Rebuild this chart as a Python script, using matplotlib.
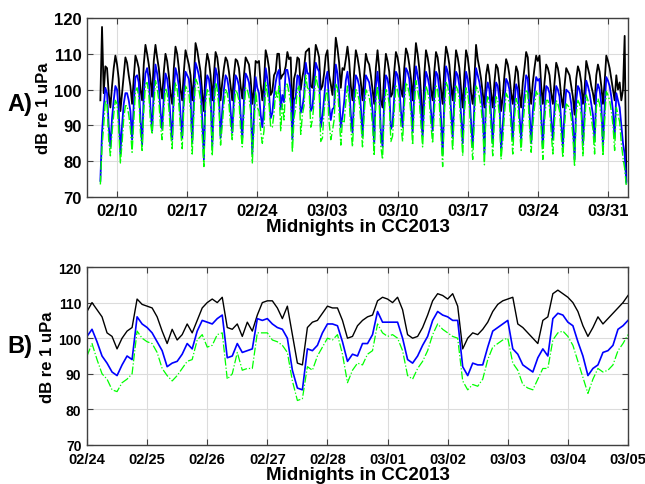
import numpy as np
import pandas as pd
import matplotlib
matplotlib.use('Agg')
import matplotlib.pyplot as plt
import matplotlib.dates as mdates

plt.rcParams['font.family'] = ['Liberation Sans', 'DejaVu Sans']
plt.rcParams['font.weight'] = 'bold'

# ---------------- Panel A: 4-hourly levels, 02/08 08h .. 04/01 20h ----------------
# one line per day (00,04,08,12,16,20 h); first line starts at 08h
top_black = [
    97, 117.5, 99, 106.5,
    106, 99, 95, 101, 106, 109.5,
    107, 103, 94, 99, 104, 109,
    107.5, 104, 101, 96, 103, 109.5,
    108, 106, 100, 97, 107, 112.5,
    110, 107, 103, 98, 108, 112.5,
    109, 106, 101, 97.5, 105, 110,
    108, 104, 99, 96, 106, 112,
    110, 106, 100, 97, 105, 111,
    109, 107, 104, 97, 103, 113,
    111, 108, 105, 99, 94, 106,
    110, 108, 104, 97, 104, 110.5,
    109, 105, 97, 102, 106, 109,
    108, 105, 101, 97, 104, 108.5,
    108, 106, 101, 97.5, 104, 109,
    108, 107, 103, 96, 100, 108,
    107.5, 108, 101.5, 97, 102, 111,
    109, 106, 98.5, 99.5, 104, 105,
    110, 110, 103, 104, 104.5, 106.5,
    110.5, 108.5, 109, 93, 103, 105,
    109, 108.5, 100, 103.5, 106, 110.5,
    111, 111.5, 101, 100.5, 106.5, 112.5,
    111, 109, 100, 101, 104.5, 109.5,
    111, 104, 101.5, 98.5, 106, 114.5,
    111.5, 107.5, 100.5, 106, 105.5, 108.5,
    112, 108, 101, 97, 105, 111,
    109, 106, 102, 97, 104, 110,
    108, 107, 104, 100, 96, 106,
    111, 106, 97, 95, 104, 110,
    108, 105, 98, 99, 105, 110.5,
    109, 106, 100, 98, 106, 111.5,
    110, 107, 103, 97, 106, 113,
    110, 106, 99, 88, 104, 111,
    109, 106, 100, 97, 105, 110.5,
    109, 105, 100, 96, 106, 112,
    110, 107, 101, 97, 104, 111,
    109, 106, 100, 95, 104, 111,
    109, 105, 99, 96, 103, 112.5,
    108.5, 106, 103, 99, 95, 104,
    107, 104, 99, 95, 102, 107,
    106, 102, 94, 98, 104, 108.5,
    107, 104, 99, 96, 102, 106.5,
    105, 99, 95, 102, 106, 110.5,
    109, 101, 96, 102, 106, 109.5,
    108, 109.5, 101, 96, 102, 107,
    106, 104, 99, 96, 102, 107.5,
    106, 103, 98, 95, 101, 106,
    105, 104, 101, 98, 93, 103,
    106.5, 105, 102, 96, 100, 108,
    106, 104, 101, 99, 96, 104,
    107, 105, 101, 96, 102, 109.5,
    108, 106, 103, 100, 97, 104,
    100, 102, 97, 100, 115, 74.5,
]
top_blue = [
    74.5, 88, 95, 100.5,
    99, 90, 84, 92, 97, 101,
    100, 94, 82, 90, 96, 99,
    99, 97, 94, 86, 96, 103.5,
    104, 102, 92, 84.5, 99, 104.5,
    106, 103, 95, 88.5, 100, 107,
    104.5, 101, 94, 89, 98, 104.5,
    103, 99, 92, 86, 100, 106,
    104, 101, 93, 86.5, 99, 105,
    104, 103, 98, 85, 97, 107.5,
    106, 104, 101, 92, 80.5, 100,
    104, 103, 99, 84, 97, 106,
    104, 99, 86.5, 94, 100, 104,
    103, 100, 94, 88, 98, 104,
    103, 101, 93, 86.5, 97, 104.5,
    103.5, 102, 98, 82, 93, 103.5,
    100.5, 99, 93, 89.5, 95, 106,
    103, 99, 92, 93.5, 98.5, 102,
    104.5, 105.5, 94.5, 98.5, 96.5, 105.5,
    105.5, 103, 100, 86, 97, 98,
    104, 103.5, 93.5, 95, 98.5, 107.5,
    104.5, 104.5, 94, 95, 100.5, 107.5,
    106, 105, 89.5, 92.5, 97.5, 103,
    105, 95.5, 91.5, 94.5, 95, 107,
    104.5, 99, 89.5, 92.5, 96.5, 102.5,
    105, 101, 93, 88, 98, 104,
    103, 101, 95, 87, 97, 104,
    103, 102, 99, 94, 85, 101,
    105, 100, 88, 84, 97, 104,
    103, 100, 89, 90, 98, 105,
    104, 101, 94, 89.5, 99, 106,
    105, 103, 97, 88, 99, 106.5,
    104, 101, 94, 87, 98, 105,
    103.5, 101, 94, 88.5, 98, 105,
    104, 100, 92, 82, 97, 106.5,
    105, 102, 94, 86.5, 98, 105,
    104, 101, 93, 85, 97, 105,
    103, 99, 91, 84, 96, 106,
    104, 102, 99, 94, 82, 99,
    102, 100, 93, 85, 96, 102,
    101, 97, 83, 90, 97, 103,
    102, 100, 93, 86, 96, 101.5,
    100, 93, 86, 94, 99, 104,
    103, 94, 85, 94, 99, 103.5,
    102.5, 103, 93, 84, 95, 101,
    100.5, 99, 92, 86, 95, 101,
    100, 98, 91, 84, 94, 100,
    99.5, 99, 96, 91, 80.5, 97,
    101, 100, 97, 84.5, 94, 102.5,
    101, 99, 96, 93, 85.5, 99,
    101.5, 100, 96, 84.5, 95, 103.5,
    102.5, 101, 98, 94, 86.5, 99,
    97, 95, 90, 85, 82, 74,
]
top_green = [
    73.5, 84, 90, 97,
    96, 86, 81.5, 88, 93, 97,
    96, 89, 79.5, 85, 92, 95.5,
    95.5, 93, 89, 82.5, 91, 99.5,
    100.5, 98, 88, 83, 94, 101.5,
    102, 99, 91, 87.5, 95, 102.5,
    100.5, 97, 90, 86, 94, 100.5,
    99, 95, 88, 83.5, 96, 102,
    100, 96, 89, 83.5, 95, 101,
    100, 99, 94, 82, 93, 103,
    102, 100, 97, 87, 78.5, 96,
    100, 99, 95, 81.5, 93, 102,
    100, 95, 84.5, 90, 96, 100,
    99, 96, 90, 86, 94, 100,
    99, 97, 89, 84, 93, 100.5,
    100, 98, 94, 79.5, 89, 99.5,
    95, 94, 88.5, 85, 88.5, 102,
    99, 96, 89.5, 89.5, 93.5, 99.5,
    97.5, 101, 88.5, 96, 91.5, 101.5,
    101.5, 99, 96, 82.5, 92, 95,
    100, 101, 87.5, 93, 95.5, 104,
    100.5, 100, 89.5, 91.5, 96.5, 104,
    101.5, 100, 85.5, 86.5, 94, 98.5,
    100, 91, 86, 88.5, 91.5, 101.5,
    100.5, 93.5, 84.5, 91.5, 91, 96.5,
    101, 97, 89, 84, 94, 100,
    99, 97, 91, 84, 93, 100,
    99, 98, 95, 90, 81.5, 97,
    101, 96, 84, 80.5, 93, 100,
    99, 96, 85.5, 87, 94, 101,
    100, 97, 90, 85.5, 95, 102,
    101, 99, 93, 84.5, 95, 102.5,
    100, 97, 90, 84, 94, 101,
    99.5, 97, 90, 85, 94, 101,
    100, 96, 87, 78.5, 93, 102,
    101, 98, 90, 83, 94, 101,
    100, 97, 89, 81.5, 93, 100.5,
    99, 95, 87, 80.5, 92, 101,
    100, 98, 95, 90, 79, 95,
    98, 96, 89, 81.5, 92, 98,
    97, 93, 80.5, 86, 93, 99,
    98, 96, 89, 82, 92, 97.5,
    96, 89, 83, 90, 95, 100,
    99, 90, 82.5, 90, 95, 99.5,
    98.5, 99, 89, 80.5, 91, 97,
    97, 95, 88, 82, 91, 97,
    96, 94, 87, 81, 90, 96,
    95.5, 95, 92, 87, 78.5, 93,
    97, 96, 93, 81.5, 90, 98.5,
    97, 95, 92, 89, 82, 95,
    97.5, 96, 92, 81.5, 91, 99.5,
    98.5, 97, 94, 90, 83, 95,
    93, 91, 85, 81, 78, 73,
]

# ---------------- Panel B: 2-hourly levels, 02/24 00h .. 03/05 00h ----------------
bot_black = [
    107.5, 110, 108, 106, 101.5, 100.5, 97, 100, 102, 103, 111, 109.5,
    109, 108.5, 106, 102, 98.5, 102.5, 99.5, 101, 104, 101.5, 105, 108.5,
    110, 111, 110, 111.5, 103, 102.5, 104, 100.5, 104.5, 102, 106.5, 110,
    110.5, 110.5, 108.5, 105.5, 109, 101, 93, 92.5, 103, 104.5, 105, 107,
    109, 108.5, 108.5, 105, 100, 100.5, 103.5, 105, 106, 106.5, 110.5, 111.5,
    111, 110, 111.5, 108, 101, 100, 100.5, 103, 106.5, 110.5, 112.5, 112,
    111, 112.5, 109, 97, 100, 101.5, 101, 102.5, 104.5, 107.5, 109.5, 110.5,
    111, 111.5, 104, 103, 101.5, 100, 98.5, 105, 106, 112.5, 113.5, 112.5,
    111.5, 110, 107.5, 103.5, 100.5, 103, 106, 104, 105.5, 107, 108.5, 110,
    112,
]
bot_blue = [
    100.5, 102.5, 99, 95, 93, 90.5, 89.5, 92.5, 95, 94, 106, 104,
    103, 101.5, 99, 96.5, 92, 93, 93.5, 95.5, 98.5, 97, 102, 105,
    104.5, 104, 105.5, 106.5, 94.5, 95, 98.5, 96, 96.5, 97, 105.5, 105,
    105.5, 104, 103, 102.5, 100, 91, 86, 85.5, 97, 96.5, 98, 101.5,
    104, 104, 103.5, 99, 93.5, 95.5, 95, 98.5, 98.5, 101, 107.5, 104.5,
    104.5, 104.5, 104.5, 100, 94, 93, 95, 98, 100.5, 105, 107.5, 106.5,
    106, 105, 105, 92, 89.5, 93, 92.5, 92.5, 97.5, 102, 103, 104,
    105, 97, 95.5, 92.5, 91.5, 90.5, 94.5, 97, 95, 105.5, 107, 106.5,
    104.5, 103.5, 99, 95, 89.5, 91.5, 92.5, 96, 96.5, 98, 102.5, 103.5,
    105,
]
bot_green = [
    95, 98.5, 94, 90, 88.5, 85.5, 85, 87.5, 88.5, 90, 102, 100,
    99, 98.5, 96, 91.5, 89.5, 88, 89.5, 91.5, 93.5, 94, 99.5, 101,
    97.5, 98, 101, 101.5, 88.5, 90, 96, 91, 91.5, 91.5, 101.5, 101.5,
    101.5, 99.5, 99, 98, 96, 88, 82.5, 83, 92, 91, 95, 97.5,
    100, 99.5, 101, 95.5, 87.5, 91, 93, 92.5, 95.5, 96.5, 104, 101.5,
    100.5, 101, 100, 96.5, 89.5, 88.5, 91.5, 93.5, 96.5, 101, 104, 102.5,
    101.5, 100.5, 100, 88, 85.5, 87, 86.5, 88.5, 94, 97.5, 98.5, 99.5,
    100, 93, 91, 87, 86, 85.5, 88.5, 91.5, 91.5, 99.5, 101.5, 102,
    100.5, 98, 93.5, 89, 84.5, 88.5, 91.5, 90.5, 91, 92.5, 96.5, 98.5,
    101,
]

yticks = [70, 80, 90, 100, 110, 120]
top_ticks = ['2013-02-10', '2013-02-17', '2013-02-24', '2013-03-03',
             '2013-03-10', '2013-03-17', '2013-03-24', '2013-03-31']

t_top = pd.date_range('2013-02-08 08:00', periods=len(top_black), freq='4h')
t_bot = pd.date_range('2013-02-24 00:00', periods=len(bot_black), freq='2h')

fig = plt.figure(figsize=(6.45, 4.85), dpi=100)
ax1 = fig.add_axes([87/645, 1 - 198/485, 541/645, 179/485])
ax2 = fig.add_axes([87/645, 1 - 446/485, 541/645, 178/485])

grid_c = '#dcdcdc'
spine_c = '#404040'

def style(ax, xsize, ysize):
    ax.set_ylim(70, 120)
    ax.set_yticks(yticks)
    ax.grid(True, color=grid_c, linewidth=0.8)
    ax.set_axisbelow(True)
    ax.tick_params(direction='in', top=True, right=True, length=4,
                   width=0.8, color=spine_c, pad=4)
    ax.tick_params(axis='x', labelsize=xsize)
    ax.tick_params(axis='y', labelsize=ysize)
    for s in ax.spines.values():
        s.set_color(spine_c)
        s.set_linewidth(1.0)
    for lab in ax.get_xticklabels() + ax.get_yticklabels():
        lab.set_fontweight('bold')
    ax.set_ylabel('dB re 1 uPa', fontsize=12, fontweight='bold')
    ax.set_xlabel('Midnights in CC2013', fontsize=13.5, fontweight='bold')

# panel A
ax1.plot(t_top, top_black, color='k', linewidth=1.3)
ax1.plot(t_top, top_blue, color='#0000ff', linewidth=1.3)
ax1.plot(t_top, top_green, color='#00ff00', linewidth=1.0, linestyle='-.')
ax1.set_xlim(pd.Timestamp('2013-02-07'), pd.Timestamp('2013-04-02'))
ax1.set_xticks(pd.to_datetime(top_ticks))
ax1.xaxis.set_major_formatter(mdates.DateFormatter('%m/%d'))
style(ax1, 12, 12)
ax1.yaxis.set_label_coords(-0.066, 0.5)
ax1.xaxis.set_label_coords(0.5, -0.118)

# panel B
ax2.plot(t_bot, bot_black, color='k', linewidth=1.0)
ax2.plot(t_bot, bot_blue, color='#0000ff', linewidth=1.2)
ax2.plot(t_bot, bot_green, color='#00ff00', linewidth=0.9, linestyle='-.')
ax2.set_xlim(pd.Timestamp('2013-02-24'), pd.Timestamp('2013-03-05'))
ax2.set_xticks(pd.date_range('2013-02-24', '2013-03-05', freq='D'))
ax2.xaxis.set_major_formatter(mdates.DateFormatter('%m/%d'))
style(ax2, 10.5, 10)
ax2.tick_params(axis='x', pad=5)
ax2.yaxis.set_label_coords(-0.059, 0.5)
ax2.xaxis.set_label_coords(0.5, -0.12)

fig.text(19.5/645, 1 - 104/485, 'A)', fontsize=17, fontweight='bold', ha='center', va='center')
fig.text(19.5/645, 1 - 347/485, 'B)', fontsize=17, fontweight='bold', ha='center', va='center')

fig.savefig('out.png', dpi=100)
